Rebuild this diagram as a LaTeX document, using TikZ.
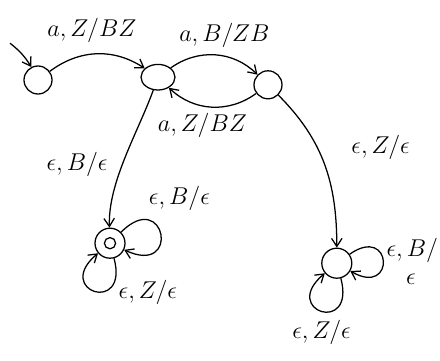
\documentclass[tikz,border=0pt]{standalone}
\usepackage{tikz}
\usetikzlibrary{positioning,arrows.meta,shapes.geometric}
\tikzset{
  st/.style  ={draw, circle, line width=0.9pt, minimum size=7mm, inner sep=0pt},
  sto/.style ={draw, ellipse, line width=0.9pt, minimum width=8.5mm,
               minimum height=6.4mm, inner sep=0pt},
  acc/.style ={st, minimum size=7.5mm,
               path picture={\draw[line width=0.9pt]
                 (path picture bounding box.center) circle (1.4mm);}},
  tr/.style  ={-{Straight Barb[length=2mm,width=2.6mm]}, line width=0.9pt},
  lbl/.style ={font=\LARGE, inner sep=2pt}
}

\begin{document}
\begin{tikzpicture}
\useasboundingbox (0,0) rectangle (11,-9);
% states
\node[st]  (q0) at (0.95,-2.0) {};
\node[sto] (q1) at (3.95,-1.93) {};
\node[st]  (q2) at (6.7,-2.12) {};
\node[acc] (q3) at (2.75,-6.08) {};
\node[st, minimum width=7.5mm, minimum height=6.6mm] (q4) at (8.42,-6.58) {};
\coordinate (start) at (0.25,-1.08);

% transitions
\draw[tr] (start) to[bend left=10] (q0);
\draw[tr] (q0) to[bend left=35] node[lbl, above=6pt, pos=0.45] {$a,Z/BZ$} (q1);
\draw[tr] (q1) to[bend left=40] node[lbl, above=4pt, pos=0.6] {$a,B/ZB$} (q2);
\draw[tr] (q2) to[bend left=40] node[lbl, below=3pt, pos=0.6] {$a,Z/BZ$} (q1);
\draw[tr] (q1) to[out=-110, in=92, looseness=0.8]
  node[lbl, left=8pt, pos=0.55] {$\epsilon,B/\epsilon$} (q3);
\draw[tr] (q2) to[out=-45, in=90] node[lbl, right=22pt, pos=0.38] {$\epsilon,Z/\epsilon$} (q4);

% loops
\draw[tr] (q3) to[out=45, in=-25, looseness=9]
  node[lbl, above right=4pt and -2pt, pos=0.25] {$\epsilon,B/\epsilon$} (q3);
\draw[tr] (q3) to[out=-75, in=-140, looseness=9]
  node[lbl, right=12pt, pos=0.45] {$\epsilon,Z/\epsilon$} (q3);
\draw[tr] (q4) to[out=35, in=-30, looseness=8]
  node[lbl, right=0pt, align=left, pos=0.5] {$\epsilon,B/$\\[-2pt]\hspace{0.8em}$\epsilon$} (q4);
\draw[tr] (q4) to[out=-75, in=-140, looseness=9]
  node[lbl, below=4pt, pos=0.5] {$\epsilon,Z/\epsilon$} (q4);
\end{tikzpicture}
\end{document}
